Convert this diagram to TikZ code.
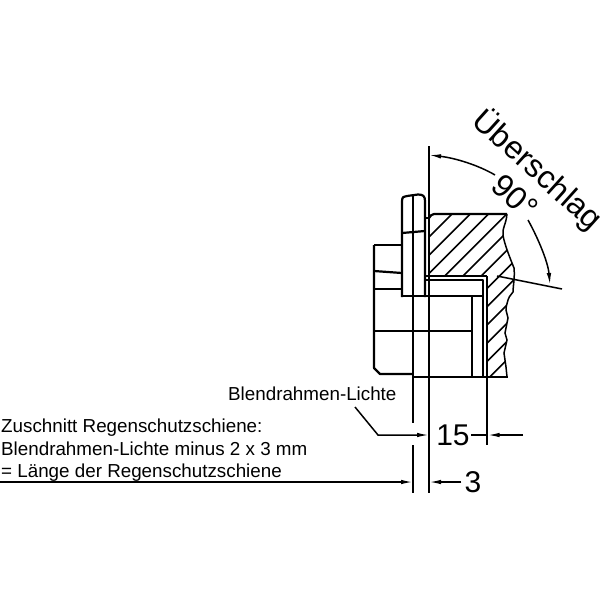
\documentclass[tikz,border=0pt]{standalone}
\usepackage{fontspec}
\setmainfont{Liberation Sans}
\usetikzlibrary{arrows.meta}
\tikzset{
  body/.style={line width=2.2pt,line join=round},
  thin line/.style={line width=1.5pt},
  hatch/.style={line width=1.5pt},
  dim/.style={line width=1.5pt,-{Latex[length=12pt,width=4.5pt]}},
  note/.style={anchor=base west,inner sep=0pt,font=\fontsize{18.8}{22}\selectfont},
  big/.style={inner sep=0pt,font=\fontsize{30}{36}\selectfont},
  slanted text/.style={inner sep=0pt,rotate=-42,font=\fontsize{32}{36}\selectfont},
}
\begin{document}
\begin{tikzpicture}[x=1pt,y=-1pt]
\useasboundingbox (0,0) rectangle (600,600);
\begin{scope}
\clip (429,218) -- (434,214) -- (507,214) -- (503,235) -- (506,248) -- (514,268) -- (513,292) -- (508,300) -- (506,310) -- (508,318) -- (505,333) -- (507,340) -- (504,353) -- (506,367) -- (507,377) -- (487,377) -- (487,276) -- (429,276) -- cycle;
\foreach \s in {0,...,11}
  \draw[hatch] ({666+18.25*\s-400},400) -- ({666+18.25*\s-100},100);
\end{scope}
\draw[hatch] (507,214) .. controls (506,225) and (502,228) .. (503,235) .. controls (504,243) and (510,258) .. (514,268) .. controls (515,278) and (513,286) .. (513,292) .. controls (510,296) and (508,298) .. (508,300) .. controls (507,304) and (506,306) .. (506,310) -- (508,318) -- (505,333) -- (507,340) -- (504,353) -- (506,367) -- (507,377);
\draw[body] (429,218) .. controls (430,216) and (432,214) .. (434,214) -- (507,214);
\draw[body] (402,297) -- (402,201) .. controls (402,197) and (404,196) .. (407,196) -- (418,194.5) .. controls (423,194.5) and (425,196) .. (425,201) -- (425,297);
\draw[body] (413,195) -- (413,423);
\draw[body] (413,445) -- (413,493);
\draw[body] (402,233) -- (425,231);
\draw[body] (425,218) -- (429,218);
\draw[body] (402,296) -- (484,296);
\draw[body] (374,245) -- (402,245);
\draw[body] (374,271) -- (402,273);
\draw[body] (374,289) -- (402,289);
\draw[body] (374,245) -- (374,368) -- (380,374) -- (413,374);
\draw[body] (374,331) -- (472,331);
\draw[body] (413,377) -- (508,377);
\draw[body] (472,296) -- (472,377);
\draw[body] (425,276) -- (487,276);
\draw[body] (425,280) -- (483,280) -- (483,377);
\draw[body] (487,276) -- (487,445);
\draw[body] (429,146) -- (429,493);
\node[note] (clear) at (228,400) {Blendrahmen-Lichte};
\node[note] (cut) at (1,432) {Zuschnitt Regenschutzschiene:};
\node[note] (rule) at (1,455) {Blendrahmen-Lichte minus 2 x 3 mm};
\node[note] (length) at (1,477) {= Länge der Regenschutzschiene};
\node[big] (fifteen) at (453,435) {15};
\node[big] (three) at (473,482) {3};
\node[slanted text] (angle) at (515,197) {90°};
\node[slanted text] (flap) at (537.5,170) {Überschlag};
\coordinate (a0) at (429,155);
\coordinate (a1) at (495,175);
\coordinate (a2) at (528,220);
\coordinate (a3) at (550,285);
\coordinate (rad0) at (497,276);
\coordinate (rad1) at (562,289);
\draw[dim] (a1) .. controls (478,165) and (455,158) .. (a0);
\draw[dim] (a2) .. controls (538,238) and (548,262) .. (a3);
\draw[thin line] (rad0) -- (rad1);
\coordinate (lead0) at (355,407);
\coordinate (lead1) at (378,435);
\coordinate (tip15a) at (429,435);
\coordinate (tip15b) at (487.5,435);
\coordinate (tail15) at (523,435);
\coordinate (stub15) at (471,435);
\coordinate (low0) at (0,482);
\coordinate (low1) at (413,482);
\coordinate (low2) at (429,482);
\draw[dim] (lead0) -- (lead1) -- (tip15a);
\draw[thin line] (stub15) -- (tip15b);
\draw[dim] (tail15) -- (tip15b);
\draw[dim] (low0) -- (low1);
\draw[dim] (three.west) ++(-3,0) -- (low2);
\end{tikzpicture}
\end{document}
